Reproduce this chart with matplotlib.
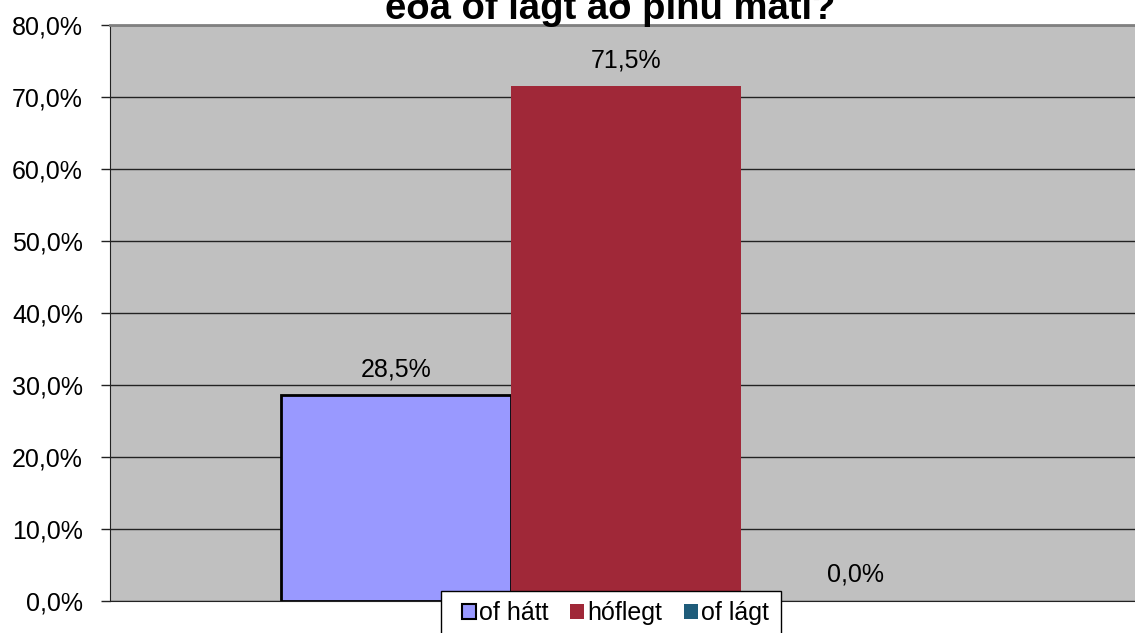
import matplotlib
matplotlib.use("Agg")
import matplotlib.pyplot as plt
from matplotlib.patches import Patch, Rectangle

plt.rcParams['font.family'] = ['Liberation Sans', 'DejaVu Sans']

series = ["of hátt", "hóflegt", "of lágt"]
values = [28.5, 71.5, 0.0]
colors = ["#9999FF", "#A02838", "#1F5C7A"]
edges = ["black", "none", "none"]
yticks = [0, 10, 20, 30, 40, 50, 60, 70, 80]
title = "eða of lágt að þínu mati?"

W, H = 1135, 633
fig = plt.figure(figsize=(W/100, H/100), dpi=100)
left, right, top, bottom = 110, 1142, 24.5, 600.5
ax = fig.add_axes([left/W, 1-bottom/H, (right-left)/W, (bottom-top)/H])
ax.set_facecolor("#C0C0C0")

xs = [-1, 0, 1]
for x, v, c, e in zip(xs, values, colors, edges):
    ax.bar(x, v, width=1.0, color=c, edgecolor=e, linewidth=2 if e != "none" else 0, zorder=3)
    ax.text(x, v + 1.9, f"{v:.1f}".replace(".", ",") + "%", ha="center", va="bottom",
            fontsize=18, zorder=4)

half = (right-left)/230/2
ax.set_xlim(-half, half)
ax.set_ylim(0, 80)
ax.set_yticks(yticks)
ax.set_yticklabels([f"{t:.1f}".replace(".", ",") + "%" for t in yticks], fontsize=18)
ax.set_xticks([])
ax.yaxis.grid(True, color="#222222", linewidth=1, zorder=1)
ax.tick_params(axis="y", length=6.5, width=1, color="#222222", pad=13)
for s in ["top", "right"]:
    ax.spines[s].set_color("#808080")
    ax.spines[s].set_linewidth(2)
ax.spines["left"].set_color("#222222")
ax.spines["bottom"].set_color("#222222")

# legend frame
fig.add_artist(Rectangle((441/W, 1-640/H), 340/W, 49/H, transform=fig.transFigure,
                         facecolor="white", edgecolor="black", linewidth=1, zorder=4))
handles = [Patch(facecolor=c, edgecolor=("black" if e != "none" else c), linewidth=1.5 if e != "none" else 0)
           for c, e in zip(colors, edges)]
leg = fig.legend(handles, series, loc="upper left", bbox_to_anchor=(452/W, 1-591/H),
                 ncol=3, fontsize=18, frameon=False,
                 handlelength=0.55, handleheight=0.55, handletextpad=0.12, columnspacing=0.88,
                 borderpad=0.4, borderaxespad=0)
leg.set_zorder(5)

fig.text(610/W, 1-19/H, title, ha="center", va="baseline", fontsize=27.5, fontweight="bold")

fig.savefig("out.png", dpi=100)
